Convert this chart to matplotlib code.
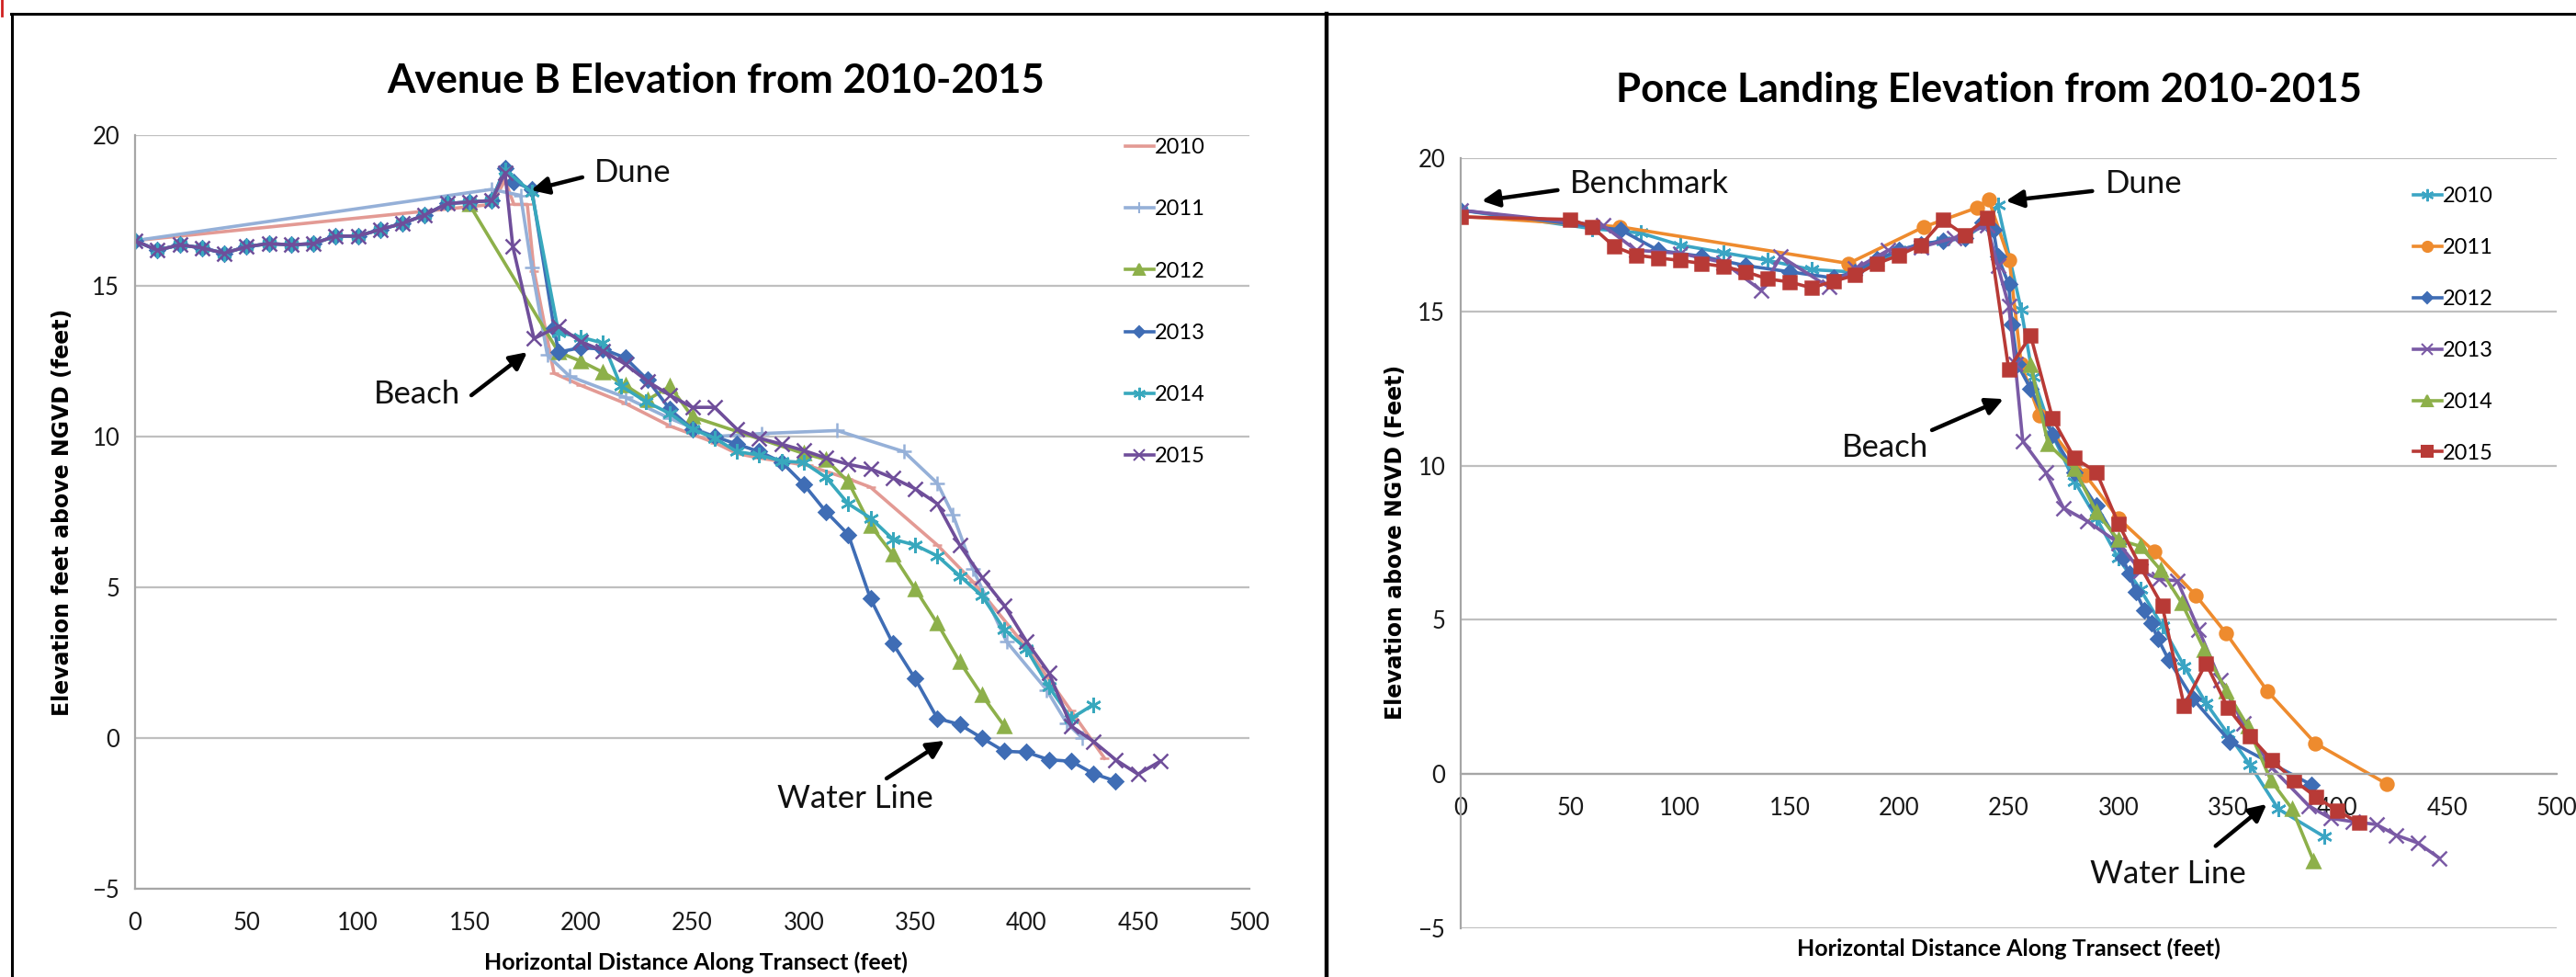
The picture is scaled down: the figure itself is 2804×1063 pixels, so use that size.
import matplotlib

matplotlib.use("Agg")

import matplotlib.pyplot as plt
from matplotlib.lines import Line2D

W, H = 2804, 1063

# ---- Avenue B (left panel) ----
ave_2010_x = [0, 160, 166, 170, 176, 179, 188, 200, 220, 240, 260, 270, 280, 302, 320, 330, 360, 376, 400, 420, 435]
ave_2010_y = [16.5, 17.7, 18.5, 17.7, 17.7, 15.5, 12.1, 11.7, 11.1, 10.35, 9.8, 9.44, 9.29, 9.04, 8.6, 8.32, 6.4, 5.18, 3.0, 0.9, -0.67]

ave_2011_x = [0, 160, 173, 178, 185, 195, 220, 240, 260, 281, 315, 345, 360, 367, 376, 391, 409, 418, 425]
ave_2011_y = [16.5, 18.2, 18.0, 15.6, 12.7, 12.0, 11.3, 10.6, 10.0, 10.1, 10.2, 9.5, 8.45, 7.4, 5.6, 3.2, 1.6, 0.5, 0.0]

ave_2012_x = [150, 190, 200, 210, 220, 230, 240, 250, 300, 310, 320, 330, 340, 350, 360, 370, 380, 390]
ave_2012_y = [17.7, 12.8, 12.5, 12.13, 11.7, 11.22, 11.67, 10.66, 9.44, 9.24, 8.5, 7.05, 6.09, 4.95, 3.8, 2.53, 1.42, 0.4]

ave_base_x = [0, 10, 20, 30, 40, 50, 60, 70, 80, 90, 100, 110, 120, 130, 140, 150, 160]
ave_base_y = [16.5, 16.18, 16.36, 16.26, 16.08, 16.3, 16.4, 16.36, 16.4, 16.65, 16.65, 16.87, 17.07, 17.35, 17.73, 17.78, 17.83]

ave_2013_x = ave_base_x + [166, 170, 178, 188, 190, 200, 210, 220, 230, 240, 250, 260, 270, 280, 290,
                           300, 310, 320, 330, 340, 350, 360, 370, 380, 390, 400, 410, 420, 430, 440]
ave_2013_y = ave_base_y + [18.9, 18.45, 18.2, 13.6, 12.8, 12.95, 12.9, 12.61, 11.88, 10.9, 10.25, 10.0, 9.75, 9.5, 9.16,
                           8.42, 7.51, 6.75, 4.62, 3.14, 1.97, 0.65, 0.45, 0.0, -0.44, -0.47, -0.72, -0.77, -1.18, -1.43]

ave_2014_x = ave_base_x + [166, 178, 190, 200, 210, 218, 229, 240, 250, 260, 270, 280, 290, 300,
                           310, 320, 330, 340, 350, 360, 370, 380, 390, 400, 410, 420, 430]
ave_2014_y = ave_base_y + [18.85, 18.1, 13.45, 13.3, 13.1, 11.68, 11.17, 10.76, 10.25, 9.95, 9.5, 9.39, 9.19, 9.14,
                           8.65, 7.77, 7.3, 6.6, 6.4, 6.04, 5.38, 4.72, 3.6, 2.95, 1.7, 0.65, 1.11]

ave_2015_x = ave_base_x + [166, 169.5, 179, 190, 200, 210, 220, 230, 240, 250, 260, 270, 280, 290, 300,
                           310, 320, 330, 340, 350, 360, 370, 380, 390, 400, 410, 420, 430, 440, 450, 460]
ave_2015_y = ave_base_y + [18.75, 16.3, 13.25, 13.66, 13.15, 12.84, 12.4, 11.83, 11.37, 10.97, 10.97, 10.25, 9.95, 9.75, 9.54,
                           9.29, 9.08, 8.93, 8.63, 8.27, 7.77, 6.4, 5.33, 4.4, 3.2, 2.17, 0.4, -0.11, -0.72, -1.2, -0.77]

# ---- Ponce Landing (right panel) ----
pon_2010_x = [0, 60, 82, 100, 120, 140, 160, 178, 190, 200, 210, 220, 230, 240, 245, 255.7, 261, 270, 280, 290,
              300, 310, 320, 330, 340, 350, 360, 373, 394]
pon_2010_y = [18.3, 17.7, 17.56, 17.17, 16.92, 16.67, 16.37, 16.3, 16.6, 17.0, 17.2, 17.3, 17.4, 17.9, 18.46, 15.07, 12.9, 11.0, 9.5, 8.3,
              7.0, 6.0, 4.8, 3.5, 2.3, 1.3, 0.3, -1.14, -2.04]

pon_2011_x = [0, 72.7, 176.9, 211.4, 235.5, 240.8, 250.3, 255.7, 264, 285, 300, 316.5, 335.3, 349, 368, 389.8, 422.6]
pon_2011_y = [18.1, 17.76, 16.57, 17.76, 18.38, 18.66, 16.67, 13.3, 11.64, 9.7, 8.3, 7.21, 5.8, 4.58, 2.69, 1.0, -0.33]

pon_2012_x = [0, 73, 90, 110, 130, 150, 170, 180, 190, 200, 210, 220, 230, 238, 243, 245, 250, 251.5, 254, 260,
              270, 280, 290, 300, 302, 305, 308, 312, 315, 318, 323, 334, 351, 388]
pon_2012_y = [18.3, 17.66, 17.0, 16.8, 16.5, 16.3, 16.1, 16.3, 16.7, 17.0, 17.2, 17.3, 17.4, 17.9, 17.66, 16.8, 15.9, 14.6, 13.3, 12.5,
              11.0, 9.8, 8.7, 7.5, 7.0, 6.5, 5.9, 5.3, 4.9, 4.4, 3.7, 2.44, 1.05, -0.35]

pon_2013_x = [0, 65, 80, 100, 120, 137, 146, 168, 180, 195, 210, 225, 240, 245, 250, 253, 256.4, 266.8, 275, 286,
              300, 310, 318.5, 326.9, 336.7, 346.5, 356.9, 370, 387, 396.7, 407, 417.7, 426.8, 436.6, 446.4]
pon_2013_y = [18.3, 17.8, 17.0, 16.9, 16.6, 15.7, 16.8, 15.8, 16.4, 17.0, 17.1, 17.4, 17.8, 16.5, 15.2, 13.3, 10.8, 9.8, 8.63, 8.2,
              7.5, 6.6, 6.32, 6.27, 4.68, 3.04, 1.65, 0.2, -1.04, -1.44, -1.55, -1.64, -1.99, -2.24, -2.73]

pon_2014_x = [260, 268, 280, 290, 300, 310, 319.3, 329, 339.2, 349.3, 359, 369.5, 379.3, 389.1]
pon_2014_y = [13.28, 10.7, 9.9, 8.5, 7.6, 7.39, 6.62, 5.54, 4.03, 2.7, 1.55, -0.2, -1.14, -2.83]

pon_2015_x = [0, 50, 60, 70, 80, 90, 100, 110, 120, 130, 140, 150, 160, 170, 180, 190, 200, 210, 220, 230, 240,
              250, 260, 270, 280, 290, 300, 310, 320, 330, 340, 350, 360, 370, 380, 390, 400, 410]
pon_2015_y = [18.08, 18.0, 17.76, 17.12, 16.84, 16.75, 16.67, 16.57, 16.47, 16.3, 16.07, 15.97, 15.78, 15.99, 16.19, 16.57, 16.84, 17.17, 17.98, 17.49, 18.04,
              13.13, 14.23, 11.54, 10.25, 9.8, 8.13, 6.74, 5.47, 2.22, 3.59, 2.14, 1.23, 0.45, -0.2, -0.74, -1.2, -1.59]

years = ["2010", "2011", "2012", "2013", "2014", "2015"]
x_ticks = [0, 50, 100, 150, 200, 250, 300, 350, 400, 450, 500]
y_ticks = [-5, 0, 5, 10, 15, 20]

ASTER = (6, 2, 0)
left_series = [
    (ave_2010_x, ave_2010_y, "#E39A94", "_", 7),
    (ave_2011_x, ave_2011_y, "#95B0D8", "+", 11),
    (ave_2012_x, ave_2012_y, "#8DB04A", "^", 10),
    (ave_2013_x, ave_2013_y, "#3F6DB5", "D", 8),
    (ave_2014_x, ave_2014_y, "#38A8BD", ASTER, 12),
    (ave_2015_x, ave_2015_y, "#6F4E9A", "x", 11),
]
right_series = [
    (pon_2010_x, pon_2010_y, "#3BA5C4", ASTER, 12),
    (pon_2011_x, pon_2011_y, "#EE8B2E", "o", 10),
    (pon_2012_x, pon_2012_y, "#3F6DB5", "D", 8),
    (pon_2013_x, pon_2013_y, "#7A5AA5", "x", 11),
    (pon_2014_x, pon_2014_y, "#8DB04A", "^", 10),
    (pon_2015_x, pon_2015_y, "#B83A36", "s", 10),
]

FONT = "Lato"
plt.rcParams["font.family"] = [FONT, "DejaVu Sans"]


def fx(px):
    return px / W


def fy(py):
    return 1 - py / H


fig = plt.figure(figsize=(W / 100, H / 100), dpi=100)
fig.patch.set_facecolor("white")


def style_axes(ax, zero_axis):
    ax.set_xlim(0, 500)
    ax.set_ylim(-5, 20)
    ax.set_xticks(x_ticks)
    ax.set_yticks(y_ticks)
    ax.grid(axis="y", color="#BFBFBF", linewidth=1.6)
    ax.set_axisbelow(True)
    for side in ("top", "right"):
        ax.spines[side].set_visible(False)
    ax.spines["left"].set_color("#A6A6A6")
    ax.spines["left"].set_linewidth(1.6)
    ax.spines["bottom"].set_color("#A6A6A6")
    ax.spines["bottom"].set_linewidth(1.6)
    if zero_axis:
        ax.spines["bottom"].set_position(("data", 0))
    ax.tick_params(length=0, labelsize=18.5, pad=18, labelcolor="#1a1a1a")
    ax.tick_params(axis="y", pad=12)


def draw(ax, series):
    handles = []
    for (xs, ys, color, marker, ms), label in zip(series, years):
        ax.plot(xs, ys, color=color, linewidth=2.6, marker=marker, markersize=ms,
                markerfacecolor=color, markeredgecolor=color, markeredgewidth=1.8)
        handles.append(Line2D([0], [0], color=color, linewidth=2.6, marker=marker, markersize=ms * 0.8,
                              markerfacecolor=color, markeredgecolor=color, markeredgewidth=1.5, label=label))
    return handles


def arrow(ax, text, tail, tip, text_xy, ha="left"):
    ax.annotate("", xy=tip, xytext=tail,
                arrowprops=dict(arrowstyle="-|>", color="black", lw=3.2, mutation_scale=28, shrinkA=0, shrinkB=0))
    ax.text(text_xy[0], text_xy[1], text, fontsize=25, ha=ha, va="center", color="#111111")


# left panel
ax1 = fig.add_axes([fx(147), fy(967), (1360 - 147) / W, (967 - 147) / H])
style_axes(ax1, zero_axis=False)
h1 = draw(ax1, left_series)
arrow(ax1, "Dune", (200.7, 18.6), (177.7, 18.17), (206, 18.75))
arrow(ax1, "Beach", (150.9, 11.37), (176, 12.8), (146, 11.4), ha="right")
arrow(ax1, "Water Line", (337.2, -1.34), (363.2, -0.09), (323, -2.0), ha="center")
ax1.legend(handles=h1, loc="upper left", bbox_to_anchor=(fx(1225), fy(150)), bbox_transform=fig.transFigure,
           frameon=False, fontsize=17, labelspacing=1.96, handlelength=1.3, handletextpad=0.05,
           borderpad=0, borderaxespad=0, numpoints=1)

# right panel
ax2 = fig.add_axes([fx(1590), fy(1009.6), (2783 - 1590) / W, (1009.6 - 171.7) / H])
style_axes(ax2, zero_axis=True)
h2 = draw(ax2, right_series)
arrow(ax2, "Benchmark", (44.2, 18.95), (9.6, 18.6), (50, 19.15))
arrow(ax2, "Dune", (288.1, 18.92), (248.7, 18.6), (294, 19.15))
arrow(ax2, "Beach", (215, 11.16), (247.6, 12.17), (193.6, 10.6), ha="center")
arrow(ax2, "Water Line", (344.4, -2.34), (367.7, -0.98), (322.7, -3.25), ha="center")
ax2.legend(handles=h2, loc="upper left", bbox_to_anchor=(fx(2627), fy(203)), bbox_transform=fig.transFigure,
           frameon=False, fontsize=17, labelspacing=1.48, handlelength=1.3, handletextpad=0.05,
           borderpad=0, borderaxespad=0, numpoints=1)

# titles and axis labels
fig.text(fx(779), fy(88), "Avenue B Elevation from 2010-2015", fontsize=31.5, fontweight="bold",
         ha="center", va="center")
fig.text(fx(2165), fy(98), "Ponce Landing Elevation from 2010-2015", fontsize=31.5, fontweight="bold",
         ha="center", va="center")
fig.text(fx(757), fy(1047), "Horizontal Distance Along Transect (feet)", fontsize=18, fontweight="bold",
         ha="center", va="center")
fig.text(fx(2186), fy(1032), "Horizontal Distance Along Transect (feet)", fontsize=18, fontweight="bold",
         ha="center", va="center")
fig.text(fx(68), fy(557), "Elevation feet above NGVD (feet)", fontsize=17, fontweight="bold",
         family="DejaVu Sans", rotation=90, ha="center", va="center")
fig.text(fx(1519), fy(590), "Elevation above NGVD (Feet)", fontsize=17, fontweight="bold",
         family="DejaVu Sans", rotation=90, ha="center", va="center")

# panel frame lines
fig.add_artist(Line2D([fx(12), 1], [fy(15), fy(15)], color="black", linewidth=2.2))
fig.add_artist(Line2D([fx(13), fx(13)], [fy(15), 0], color="black", linewidth=2.2))
fig.add_artist(Line2D([fx(1444), fx(1444)], [fy(15), 0], color="black", linewidth=3.2))
fig.add_artist(Line2D([fx(2), fx(2)], [1, fy(17)], color="#D02020", linewidth=2.0))

fig.savefig("out.png", dpi=100, facecolor="white")
plt.close(fig)
